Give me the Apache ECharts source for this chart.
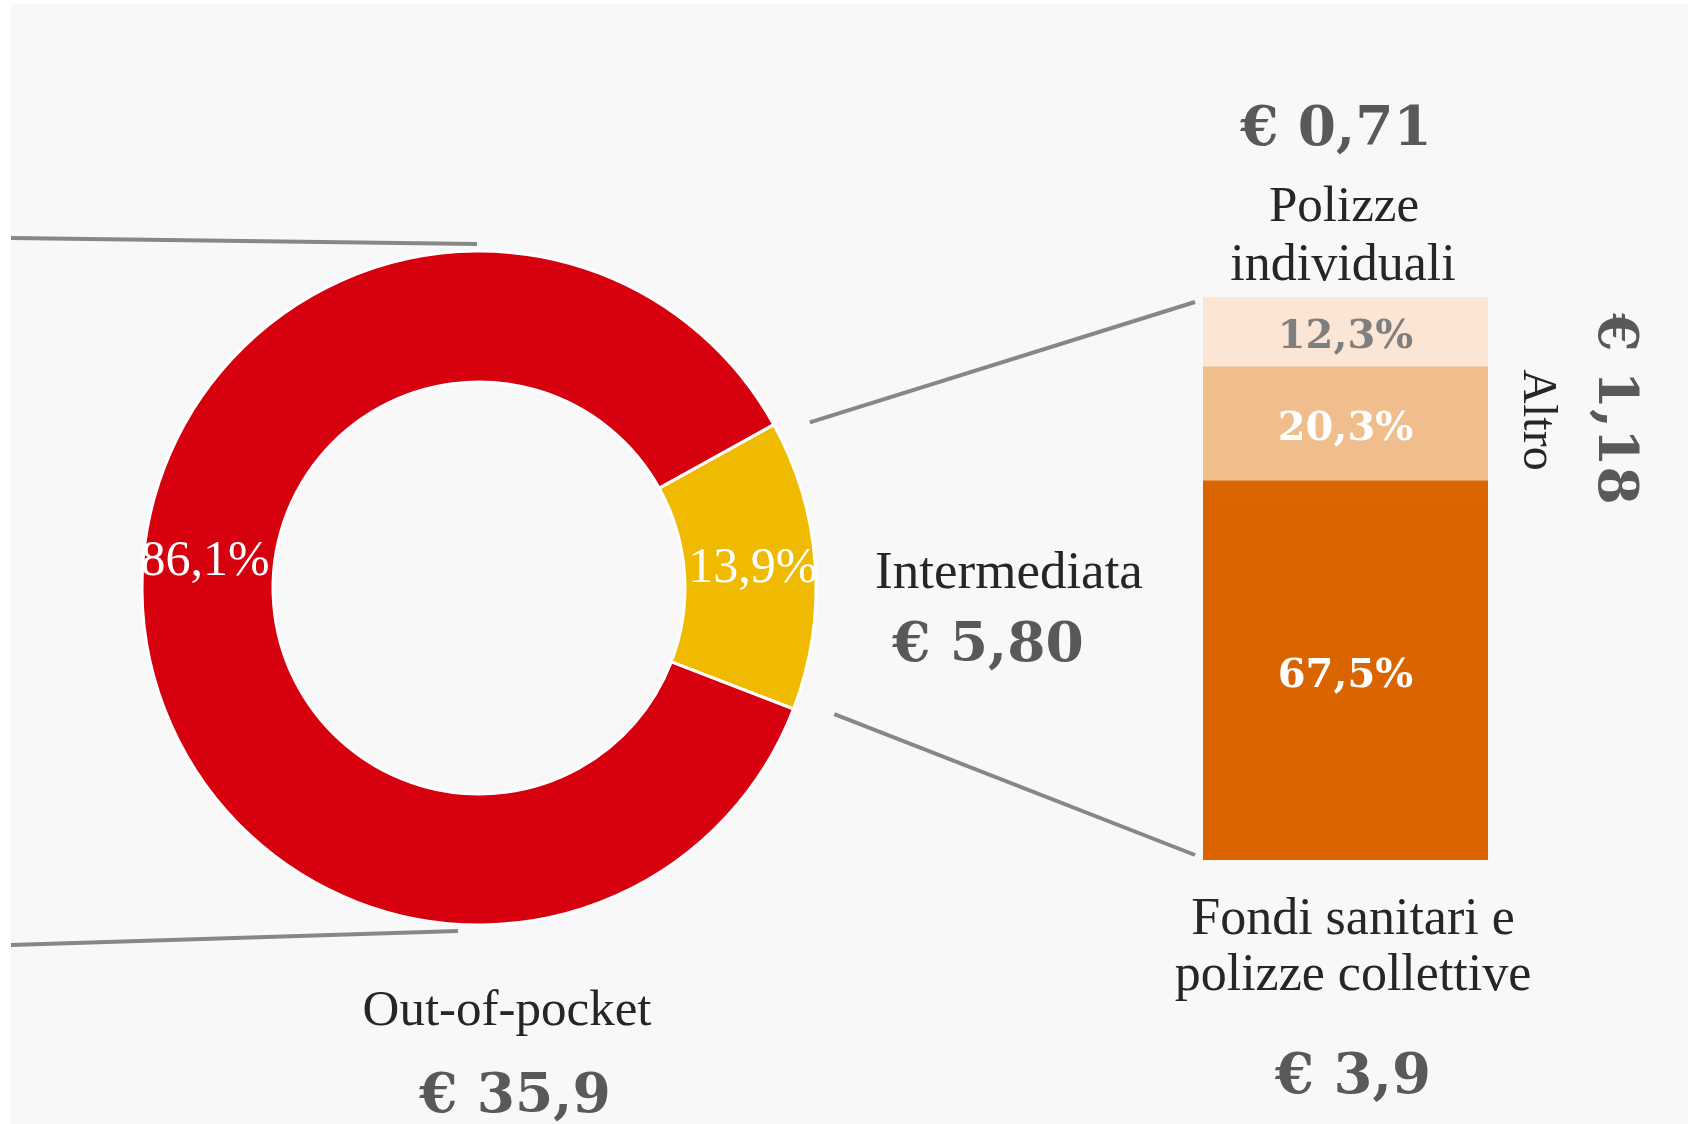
<!DOCTYPE html>
<html>
<head>
<meta charset="utf-8">
<script src="https://cdn.jsdelivr.net/npm/echarts@6/dist/echarts.min.js"></script>
<style>
  html, body { margin: 0; padding: 0; background: #fff; }
  #chart { width: 1688px; height: 1124px; }
</style>
</head>
<body>
<div id="chart"></div>
<script>
// data
const pieNames = ['Intermediata', 'Out-of-pocket']
const pieShares = [13.9, 86.1]
const pieColors = ['#F0BA00', '#D6000F']

const barNames = ['Fondi sanitari e polizze collettive', 'Altro', 'Polizze individuali']
const barShares = [67.5, 20.3, 12.3]
const barColors = ['#D96400', '#F0BD8C', '#FBE5D5']
const barLabelColors = ['#ffffff', '#ffffff', '#7f7f7f']

const euroLabels = ['€ 35,9', '€ 5,80', '€ 3,9', '€ 1,18', '€ 0,71']

// layout
const REG = '"Liberation Serif", serif'
const BOLD = '"DejaVu Serif", serif'
const GREY = '#595959'
const DARK = '#262626'

const cx = 479, cy = 588
const rIn = 206, rOut = 337
const startAngle = 29
const barGrid = { left: 1203, top: 297, width: 285, height: 563 }

const pct = v => v.toFixed(1).replace('.', ',') + '%'

function polar(angleDeg, r) {
    const a = angleDeg * Math.PI / 180
    return [cx + r * Math.cos(a), cy - r * Math.sin(a)]
}

// edges of the "Intermediata" slice, used for the connectors
const sliceSpan = pieShares[0] / (pieShares[0] + pieShares[1]) * 360
const edgeTop = startAngle
const edgeBottom = startAngle - sliceSpan

function line(p1, p2) {
    return {
        type: 'line',
        shape: { x1: p1[0], y1: p1[1], x2: p2[0], y2: p2[1] },
        style: { stroke: '#878787', lineWidth: 4 },
        silent: true
    }
}

function text(str, x, y, size, font, color, weight, rotation) {
    return {
        type: 'text',
        x: x, y: y,
        rotation: rotation || 0,
        z: 100,
        style: {
            text: str,
            fontSize: size,
            fontFamily: font,
            fontWeight: weight || 'normal',
            fill: color,
            align: 'center',
            verticalAlign: 'middle'
        },
        silent: true
    }
}

const barBottom = barGrid.top + barGrid.height

const graphics = [
    // white frame on the left and top of the picture
    { type: 'rect', shape: { x: 0, y: 0, width: 11, height: 1124 }, style: { fill: '#fff' }, silent: true },
    { type: 'rect', shape: { x: 0, y: 0, width: 1688, height: 4 }, style: { fill: '#fff' }, silent: true },

    // connectors coming from the left
    line([11, cy - 350], [cx - 2, cy - 344]),
    line([11, cy + 357], [cx - 21, cy + 343]),

    // connectors slice -> bar
    line(polar(edgeTop - 2.4, rOut + 33), [barGrid.left - 8, barGrid.top + 5]),
    line(polar(edgeBottom + 1.5, rOut + 40), [barGrid.left - 8, barBottom - 5]),

    text('Out-of-pocket', 507, 1012, 51, REG, DARK),
    text(euroLabels[0], 515, 1098, 55, BOLD, GREY, 'bold'),

    text('Intermediata', 1009, 574, 53, REG, DARK),
    text(euroLabels[1], 988, 647, 55, BOLD, GREY, 'bold'),

    text('Fondi sanitari e', 1353, 920, 52, REG, DARK),
    text('polizze collettive', 1353, 976, 52, REG, DARK),
    text(euroLabels[2], 1353, 1078, 56, BOLD, GREY, 'bold'),

    text('Polizze', 1344, 208, 51, REG, DARK),
    text('individuali', 1343, 266, 52, REG, DARK),
    text(euroLabels[4], 1336, 131, 55, BOLD, GREY, 'bold'),

    text('Altro', 1537, 420, 48, REG, DARK, 'normal', -Math.PI / 2),
    text(euroLabels[3], 1613, 409, 55, BOLD, GREY, 'bold', -Math.PI / 2)
]

const chart = echarts.init(document.getElementById('chart'))

chart.setOption({
    backgroundColor: '#f8f8f8',
    animation: false,
    grid: {
        left: barGrid.left,
        top: barGrid.top,
        width: barGrid.width,
        height: barGrid.height
    },
    xAxis: {
        type: 'category',
        data: ['Intermediata'],
        show: false
    },
    yAxis: {
        type: 'value',
        min: 0,
        max: barShares.reduce((a, b) => a + b, 0),
        show: false
    },
    series: [
        {
            type: 'pie',
            center: [cx, cy],
            radius: [rIn, rOut],
            startAngle: startAngle,
            clockwise: true,
            avoidLabelOverlap: false,
            emphasis: { disabled: true },
            itemStyle: { borderColor: '#ffffff', borderWidth: 3 },
            label: {
                show: true,
                position: 'inside',
                color: '#fff',
                fontFamily: REG,
                fontSize: 50,
                lineHeight: 90,
                // the big slice's label sits a bit above the slice's middle:
                // an empty second line pushes it up
                formatter: p => p.dataIndex === 1 ? pct(p.value) + '\n ' : pct(p.value)
            },
            labelLine: { show: false },
            data: pieNames.map((n, i) => ({
                name: n,
                value: pieShares[i],
                itemStyle: { color: pieColors[i] }
            }))
        }
    ].concat(barNames.map((n, i) => ({
        type: 'bar',
        name: n,
        stack: 'intermediata',
        barWidth: '100%',
        emphasis: { disabled: true },
        itemStyle: { color: barColors[i] },
        label: {
            show: true,
            position: 'inside',
            offset: [0, 6],
            color: barLabelColors[i],
            fontFamily: BOLD,
            fontWeight: 'bold',
            fontSize: 40,
            formatter: p => pct(p.value)
        },
        data: [barShares[i]]
    }))),
    graphic: graphics
})
</script>
</body>
</html>
